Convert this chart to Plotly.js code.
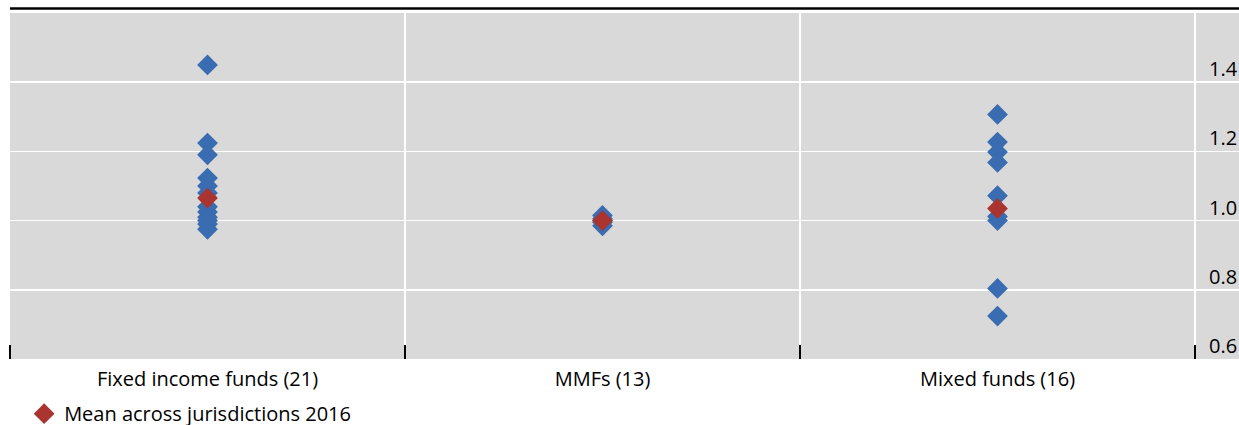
<!DOCTYPE html>
<html>
<head>
<meta charset="utf-8">
<script src="https://cdn.plot.ly/plotly-3.0.1.min.js"></script>
<style>html,body{margin:0;padding:0;background:#fff;}#chart{width:1239px;height:425px;}</style>
</head>
<body>
<div id="chart"></div>
<script>
// Categories and values
const categories = ['Fixed income funds (21)', 'MMFs (13)', 'Mixed funds (16)'];
const fixedIncome = [1.45, 1.224, 1.19, 1.123, 1.10, 1.08, 1.04, 1.025, 1.01, 1.0, 0.99, 0.975];
const mmfs = [1.015, 1.005, 1.0, 0.995, 0.985];
const mixedFunds = [1.307, 1.227, 1.198, 1.168, 1.072, 1.012, 1.0, 0.804, 0.724];
const means2016 = [1.065, 1.0, 1.035];
const yTicks = [0.6, 0.8, 1.0, 1.2, 1.4];
const yTickText = ['0.6', '0.8', '1.0', '1.2', '1.4'];
const legendLabel = 'Mean across jurisdictions 2016';

const groups = [fixedIncome, mmfs, mixedFunds];
const bx = [], by = [];
groups.forEach((g, i) => g.forEach(v => { bx.push(i); by.push(v); }));

const FONT = '"Open Sans", Lato, sans-serif';
const BLUE = '#3a6cb1';
const RED = '#aa3430';

const traces = [
  {x: bx, y: by, type: 'scatter', mode: 'markers', showlegend: false, hoverinfo: 'skip',
   marker: {symbol: 'diamond', size: 16, color: BLUE, line: {width: 0}}},
  {x: categories.map((c, i) => i), y: means2016, type: 'scatter', mode: 'markers', name: legendLabel,
   marker: {symbol: 'diamond', size: 16, color: RED, line: {width: 0}}}
];

const xRange = [-0.5, 2.6114];
const layout = {
  width: 1239, height: 425,
  margin: {l: 10, r: 0, t: 13, b: 66, pad: 0, autoexpand: false},
  paper_bgcolor: '#ffffff',
  plot_bgcolor: '#d9d9d9',
  font: {family: FONT, size: 20, color: '#000'},
  showlegend: true,
  legend: {orientation: 'h', x: 0.0115, xanchor: 'left', y: -0.158, yanchor: 'middle',
           bgcolor: 'rgba(0,0,0,0)', font: {family: FONT, size: 20, color: '#000'}},
  xaxis: {
    range: xRange, tickmode: 'array', tickvals: [0, 1, 2], ticktext: categories,
    showgrid: false, zeroline: false, showline: false, ticks: '', automargin: false,
    ticklabelstandoff: 6,
    tickfont: {family: FONT, size: 20, color: '#000'},
    minor: {tick0: -0.5, dtick: 1, showgrid: true, gridcolor: '#ffffff', gridwidth: 1.5,
            ticks: 'inside', ticklen: 14, tickwidth: 1.5, tickcolor: '#000'}
  },
  yaxis: {
    range: [0.6, 1.6], side: 'right', anchor: 'free',
    position: (2.5 - xRange[0]) / (xRange[1] - xRange[0]),
    tickmode: 'array', tickvals: yTicks, ticktext: yTickText,
    ticklabelposition: 'outside', ticklabelshift: -13, showgrid: true, gridcolor: '#ffffff', gridwidth: 1.5,
    zeroline: false, showline: false, ticks: '', ticklabelstandoff: 13, automargin: false,
    tickfont: {family: FONT, size: 20, color: '#000'}
  },
  shapes: [
    {type: 'line', xref: 'paper', yref: 'paper', x0: 0, x1: 1, y0: 1.013, y1: 1.013,
     line: {color: '#000', width: 2.5}}
  ]
};

Plotly.newPlot('chart', traces, layout, {displayModeBar: false, staticPlot: true});
</script>
</body>
</html>
